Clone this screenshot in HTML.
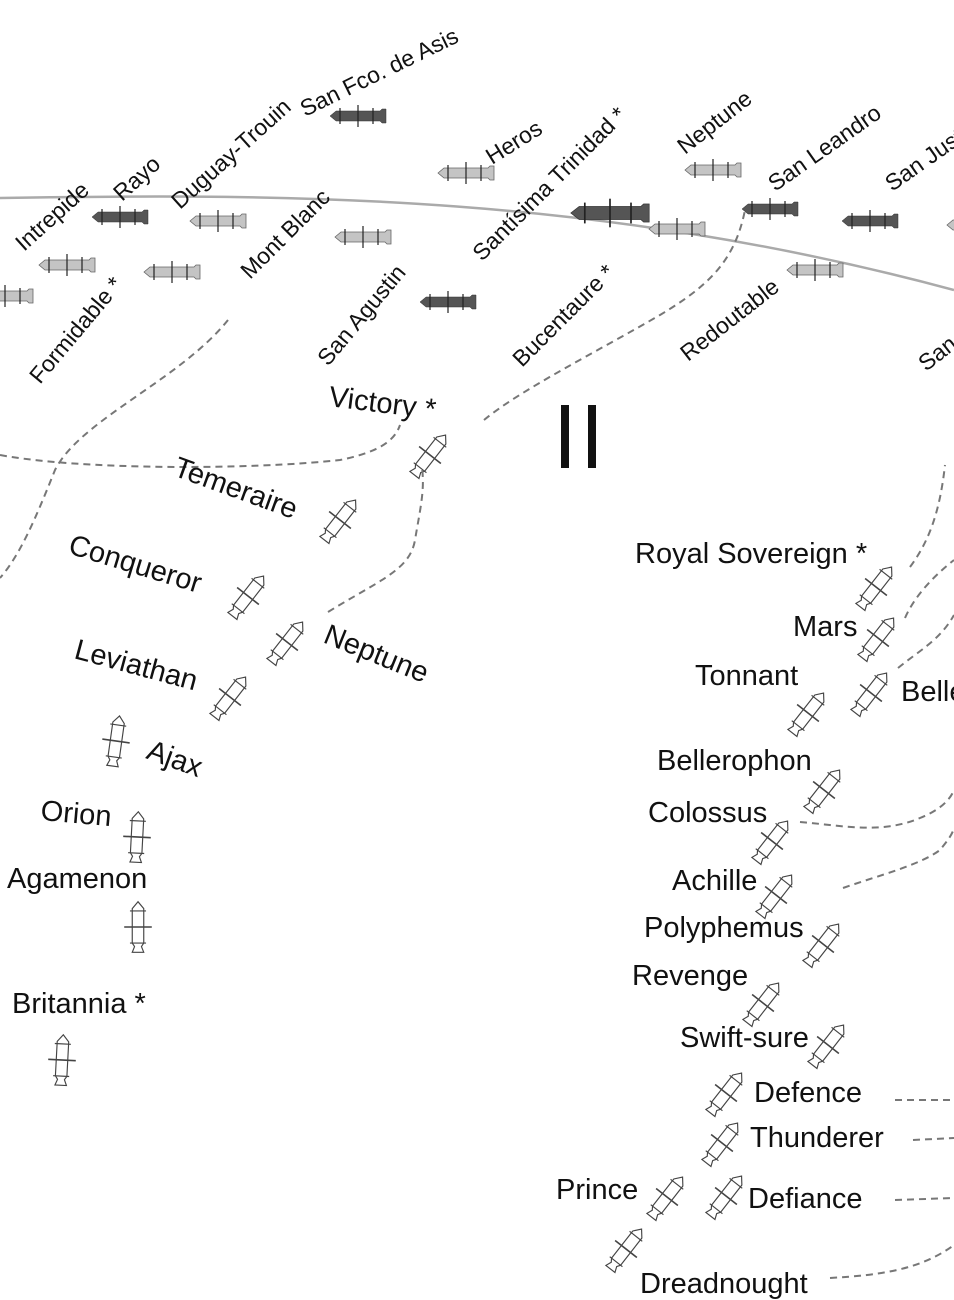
<!DOCTYPE html>
<html><head><meta charset="utf-8"><style>
html,body{margin:0;padding:0;background:#fff;}
svg{display:block;}
text{font-family:"Liberation Sans",sans-serif;fill:#111;}
.f{font-size:23px;}
.b{font-size:29px;}
.d{fill:none;stroke:#777;stroke-width:2;stroke-dasharray:7,5;}
</style></head><body>
<svg width="954" height="1300" viewBox="0 0 954 1300" xmlns="http://www.w3.org/2000/svg">
<defs>
<g id="fr">
<polygon points="-28,0 -22,-5 22,-5 24,-7 28,-7 28,7 24,7 22,5 -22,5"/>
<line x1="-18" y1="-8" x2="-18" y2="8" stroke="#222" stroke-width="1.2"/>
<line x1="0" y1="-11" x2="0" y2="11" stroke="#222" stroke-width="1.2"/>
<line x1="15" y1="-8" x2="15" y2="8" stroke="#222" stroke-width="1.2"/>
</g>
<g id="br0" fill="none" stroke="#444" stroke-width="1">
<polygon points="0,-22 -5,-16 -5,14 -3,17 -5,22 5,22 3,17 5,14 5,-16"/>
<line x1="-7" y1="-14" x2="7" y2="-14"/>
<line x1="-12" y1="0" x2="12" y2="0" stroke-width="1.4"/>
<line x1="-7" y1="14" x2="7" y2="14"/>
</g>
<g id="br"><use href="#br0" transform="scale(1.15)"/></g>
</defs>
<path d="M0,198 C300,193 600,195 954,290" fill="none" stroke="#aaa" stroke-width="2.5"/>
<g fill="#555" stroke="#333" stroke-width="0.5">
<use href="#fr" transform="translate(358,116)"/>
<use href="#fr" transform="translate(120,217)"/>
<use href="#fr" transform="translate(610,213) scale(1.4,1.3)"/>
<use href="#fr" transform="translate(448,302)"/>
<use href="#fr" transform="translate(770,209)"/>
<use href="#fr" transform="translate(870,221)"/>
</g>
<g fill="#c4c4c4" stroke="#666" stroke-width="0.8">
<use href="#fr" transform="translate(218,221)"/>
<use href="#fr" transform="translate(466,173)"/>
<use href="#fr" transform="translate(363,237)"/>
<use href="#fr" transform="translate(67,265)"/>
<use href="#fr" transform="translate(172,272)"/>
<use href="#fr" transform="translate(5,296)"/>
<use href="#fr" transform="translate(713,170)"/>
<use href="#fr" transform="translate(677,229)"/>
<use href="#fr" transform="translate(815,270)"/>
<use href="#fr" transform="translate(975,225)"/>
</g>
<use href="#br" transform="translate(430,455) rotate(38)"/>
<use href="#br" transform="translate(340,520) rotate(38)"/>
<use href="#br" transform="translate(248,596) rotate(38)"/>
<use href="#br" transform="translate(287,642) rotate(38)"/>
<use href="#br" transform="translate(230,697) rotate(38)"/>
<use href="#br" transform="translate(116,741) rotate(8)"/>
<use href="#br" transform="translate(137,837) rotate(3)"/>
<use href="#br" transform="translate(138,927) rotate(0)"/>
<use href="#br" transform="translate(62,1060) rotate(3)"/>
<use href="#br" transform="translate(876,587) rotate(38)"/>
<use href="#br" transform="translate(878,638) rotate(38)"/>
<use href="#br" transform="translate(871,693) rotate(38)"/>
<use href="#br" transform="translate(808,713) rotate(38)"/>
<use href="#br" transform="translate(824,790) rotate(38)"/>
<use href="#br" transform="translate(772,841) rotate(38)"/>
<use href="#br" transform="translate(776,895) rotate(38)"/>
<use href="#br" transform="translate(823,944) rotate(38)"/>
<use href="#br" transform="translate(763,1003) rotate(38)"/>
<use href="#br" transform="translate(828,1045) rotate(38)"/>
<use href="#br" transform="translate(726,1093) rotate(38)"/>
<use href="#br" transform="translate(722,1143) rotate(38)"/>
<use href="#br" transform="translate(726,1196) rotate(38)"/>
<use href="#br" transform="translate(667,1197) rotate(38)"/>
<use href="#br" transform="translate(626,1249) rotate(38)"/>
<path class="d" d="M0,455 C80,470 250,470 340,460 C380,452 395,440 400,425"/>
<path class="d" d="M228,320 C180,380 80,420 55,470 C35,520 20,555 0,578"/>
<path class="d" d="M484,420 C520,390 600,350 660,315 C710,285 735,260 745,210"/>
<path class="d" d="M328,612 C380,580 410,570 415,540 C420,510 425,490 422,468"/>
<path class="d" d="M910,567 C930,540 940,510 945,465"/>
<path class="d" d="M905,618 C915,595 935,575 954,560"/>
<path class="d" d="M898,668 C920,650 940,640 954,615"/>
<path class="d" d="M800,822 C840,825 880,835 920,818 C940,810 950,800 954,790"/>
<path class="d" d="M843,888 C880,875 920,865 940,850 C948,840 952,835 954,828"/>
<path class="d" d="M895,1100 L954,1100"/>
<path class="d" d="M913,1140 L954,1138"/>
<path class="d" d="M895,1200 L954,1198"/>
<path class="d" d="M830,1278 C880,1275 920,1270 954,1245"/>
<rect x="561" y="405" width="8" height="63" fill="#111"/>
<rect x="588" y="405" width="8" height="63" fill="#111"/>
<text class="f" transform="translate(24,252) rotate(-42)">Intrepide</text>
<text class="f" transform="translate(122,202) rotate(-42)">Rayo</text>
<text class="f" transform="translate(180,210) rotate(-42)">Duguay-Trouin</text>
<text class="f" transform="translate(305,117) rotate(-26)">San Fco. de Asis</text>
<text class="f" transform="translate(492,165) rotate(-32)">Heros</text>
<text class="f" transform="translate(482,262) rotate(-45)">Santísima Trinidad *</text>
<text class="f" transform="translate(685,155) rotate(-38)">Neptune</text>
<text class="f" transform="translate(775,192) rotate(-35)">San Leandro</text>
<text class="f" transform="translate(892,192) rotate(-35)">San Justo</text>
<text class="f" transform="translate(250,280) rotate(-45)">Mont Blanc</text>
<text class="f" transform="translate(40,385) rotate(-50)">Formidable *</text>
<text class="f" transform="translate(328,367) rotate(-50)">San Agustin</text>
<text class="f" transform="translate(522,368) rotate(-45)">Bucentaure *</text>
<text class="f" transform="translate(688,362) rotate(-38)">Redoutable</text>
<text class="f" transform="translate(926,372) rotate(-38)">San Ildefonso</text>
<text class="b" transform="translate(328,406) rotate(7)">Victory *</text>
<text class="b" transform="translate(172,475) rotate(20)">Temeraire</text>
<text class="b" transform="translate(67,553) rotate(17)">Conqueror</text>
<text class="b" transform="translate(322,642) rotate(22)">Neptune</text>
<text class="b" transform="translate(73,658) rotate(15)">Leviathan</text>
<text class="b" transform="translate(145,758) rotate(20)">Ajax</text>
<text class="b" transform="translate(40,820) rotate(5)">Orion</text>
<text class="b" x="7" y="888">Agamenon</text>
<text class="b" x="12" y="1013">Britannia *</text>
<text class="b" x="635" y="563">Royal Sovereign *</text>
<text class="b" x="793" y="636">Mars</text>
<text class="b" x="695" y="685">Tonnant</text>
<text class="b" x="901" y="701">Bellerophon</text>
<text class="b" x="657" y="770">Bellerophon</text>
<text class="b" x="648" y="822">Colossus</text>
<text class="b" x="672" y="890">Achille</text>
<text class="b" x="644" y="937">Polyphemus</text>
<text class="b" x="632" y="985">Revenge</text>
<text class="b" x="680" y="1047">Swift-sure</text>
<text class="b" x="754" y="1102">Defence</text>
<text class="b" x="750" y="1147">Thunderer</text>
<text class="b" x="748" y="1208">Defiance</text>
<text class="b" x="556" y="1199">Prince</text>
<text class="b" x="640" y="1293">Dreadnought</text>
</svg>
</body></html>
